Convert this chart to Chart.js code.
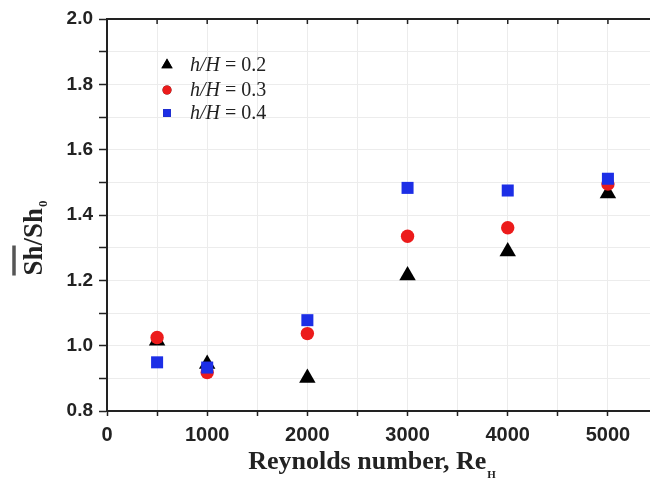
<!DOCTYPE html>
<html>
<head>
<meta charset="utf-8">
<script src="https://cdn.jsdelivr.net/npm/chart.js@4.4.1/dist/chart.umd.min.js"></script>
<style>
html, body { margin: 0; padding: 0; background: #fff; }
</style>
</head>
<body>
<canvas id="canvas1" width="650" height="481"></canvas>
<script>
// Data
let reynolds = [500, 1000, 2000, 3000, 4000, 5000];
let sh02 = [1.015, 0.944, 0.901, 1.215, 1.288, 1.466];
let sh03 = [1.025, 0.918, 1.037, 1.335, 1.361, 1.495];
let sh04 = [0.949, 0.933, 1.078, 1.483, 1.475, 1.511];
let ratios = ["0.2", "0.3", "0.4"];
let xTicks = ["0", "1000", "2000", "3000", "4000", "5000"];
let yTicks = ["0.8", "1.0", "1.2", "1.4", "1.6", "1.8", "2.0"];

let points = (ys) => reynolds.map((x, i) => ({ x: x, y: ys[i] }));

let serif = "'Liberation Serif', 'Times New Roman', serif";
let sans = "'Liberation Sans', Arial, sans-serif";

// titles, top frame and legend drawn by hand
let decorations = {
    id: "decorations",
    afterDraw(chart) {
        let ctx = chart.ctx;
        let area = chart.chartArea;
        let xs = chart.scales.x;
        ctx.save();

        // top frame with inward ticks
        ctx.strokeStyle = "#222";
        ctx.lineWidth = 2;
        ctx.beginPath();
        ctx.moveTo(area.left, area.top);
        ctx.lineTo(area.right, area.top);
        ctx.stroke();
        ctx.lineWidth = 1.5;
        for (let v = 500; v <= xs.max; v += 500) {
            let px = xs.getPixelForValue(v);
            ctx.beginPath();
            ctx.moveTo(px, area.top);
            ctx.lineTo(px, area.top + 5);
            ctx.stroke();
        }

        // y title: Sh/Sh0 with bar over the first Sh
        ctx.fillStyle = "#222";
        ctx.translate(42, 238);
        ctx.rotate(-Math.PI / 2);
        ctx.font = "bold 27px " + serif;
        let main = "Sh/Sh";
        let wMain = ctx.measureText(main).width;
        let wSh = ctx.measureText("Sh").width;
        ctx.font = "bold 13px " + serif;
        let wSub = ctx.measureText("0").width;
        let start = -(wMain + wSub + 1) / 2;
        ctx.font = "bold 27px " + serif;
        ctx.textBaseline = "alphabetic";
        ctx.fillText(main, start, 0);
        ctx.font = "bold 13px " + serif;
        ctx.fillText("0", start + wMain + 1, 5);
        ctx.strokeStyle = "#555";
        ctx.lineWidth = 3.5;
        ctx.beginPath();
        ctx.moveTo(start, -28);
        ctx.lineTo(start + wSh, -28);
        ctx.stroke();
        ctx.setTransform(1, 0, 0, 1, 0, 0);

        // x title: Reynolds number, Re_H
        ctx.font = "bold 26px " + serif;
        let xt = "Reynolds number, Re";
        let wx = ctx.measureText(xt).width;
        ctx.font = "bold 11px " + serif;
        let wh = ctx.measureText("H").width;
        let x0 = 372 - (wx + wh + 1) / 2;
        ctx.font = "bold 26px " + serif;
        ctx.fillText(xt, x0, 469);
        ctx.font = "bold 11px " + serif;
        ctx.fillText("H", x0 + wx + 1, 478);

        // legend
        let rows = [65, 90, 113];
        chart.data.datasets.forEach((ds, i) => {
            let y = rows[i];
            Chart.helpers.drawPoint(ctx, {
                pointStyle: ds.pointStyle,
                radius: ds.legendRadius,
                rotation: 0,
                borderWidth: 0
            }, 167, y);
            ctx.fillStyle = ds.backgroundColor;
            ctx.fill();
            ctx.fillStyle = "#222";
            ctx.font = "italic 20px " + serif;
            ctx.fillText("h/H", 190, y + 6);
            let wi = ctx.measureText("h/H").width;
            ctx.font = "20px " + serif;
            ctx.fillText(" = " + ratios[i], 190 + wi, y + 6);
        });

        ctx.restore();
    }
};

let myChart1 = document.querySelector("#canvas1").getContext("2d");

let scatterChart = new Chart(myChart1, {
    type: "scatter",
    data: {
        datasets: [{
            label: "h/H = " + ratios[0],
            data: points(sh02),
            pointStyle: "triangle",
            pointRadius: 9.5,
            legendRadius: 6.5,
            backgroundColor: "#000",
            borderColor: "#000",
            borderWidth: 0,
            order: 2
        }, {
            label: "h/H = " + ratios[1],
            data: points(sh03),
            pointStyle: "circle",
            pointRadius: 6.7,
            legendRadius: 4.5,
            backgroundColor: "#ec1b1b",
            borderColor: "#ec1b1b",
            borderWidth: 0,
            order: 1
        }, {
            label: "h/H = " + ratios[2],
            data: points(sh04),
            pointStyle: "rect",
            pointRadius: 8.5,
            legendRadius: 5.5,
            backgroundColor: "#1c2ee6",
            borderColor: "#1c2ee6",
            borderWidth: 0,
            order: 0
        }]
    },
    options: {
        responsive: false,
        animation: false,
        devicePixelRatio: 1,
        layout: { autoPadding: false, padding: { top: 19, left: 0, right: 0, bottom: 0 } },
        plugins: {
            legend: { display: false },
            tooltip: { enabled: false }
        },
        scales: {
            x: {
                type: "linear",
                min: 0,
                max: 5420,
                // gridline every 500, labels only on the thousands
                afterBuildTicks: (s) => {
                    s.ticks = [];
                    for (let v = 0; v <= s.max; v += 500) s.ticks.push({ value: v });
                },
                afterFit: (s) => { s.height = 70; s.paddingRight = 0; s.paddingLeft = 0; },
                ticks: {
                    autoSkip: false,
                    maxRotation: 0,
                    padding: 7,
                    color: "#222",
                    font: { family: sans, size: 20, weight: "bold" },
                    callback: (v) => xTicks.includes(String(v)) ? String(v) : ""
                },
                grid: { color: "#ececec", lineWidth: 1, tickColor: "#222", tickLength: 5, tickWidth: 1.5 },
                border: { color: "#222", width: 2 }
            },
            y: {
                min: 0.8,
                max: 2.0,
                afterFit: (s) => { s.width = 107; },
                ticks: {
                    stepSize: 0.1,
                    maxTicksLimit: 20,
                    autoSkip: false,
                    padding: 6,
                    color: "#222",
                    font: { family: sans, size: 19, weight: "bold" },
                    callback: (v) => yTicks.includes(v.toFixed(1)) ? v.toFixed(1) : ""
                },
                grid: { color: "#ececec", lineWidth: 1, tickColor: "#222", tickLength: 8, tickWidth: 1.5 },
                border: { color: "#222", width: 2 }
            }
        }
    },
    plugins: [decorations]
});
</script>
</body>
</html>
